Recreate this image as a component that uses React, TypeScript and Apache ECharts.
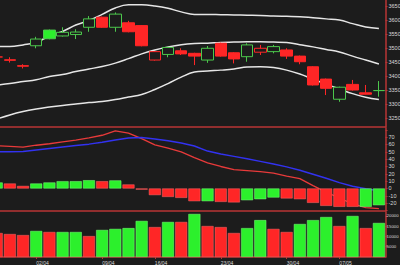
import React, { useEffect, useRef } from 'react';
import * as echarts from 'echarts';

const dates = ['28/03','29/03','30/03','02/04','03/04','04/04','05/04','06/04','09/04','10/04','11/04','12/04','16/04','17/04','18/04','19/04','20/04','23/04','24/04','25/04','26/04','27/04','30/04','02/05','03/05','04/05','07/05','08/05','09/05','10/05'];
const labelDates = ['02/04','09/04','16/04','23/04','30/04','07/05'];

const prevClose = 3475;
const open =  [3468,3458,3437,3508,3564,3543,3548,3574,3610,3574,3590,3580,3457,3477,3490,3481,3457,3517,3483,3469,3485,3487,3493,3471,3433,3389,3317,3370,3340,3348];
const close = [3468,3456,3435,3532,3533,3556,3557,3604,3574,3621,3558,3508,3487,3502,3479,3471,3499,3471,3461,3511,3499,3505,3471,3451,3368,3356,3360,3350,3335,3348];
const low =   [3461,3448,3427,3499,3531,3541,3532,3558,3572,3558,3556,3506,3455,3467,3475,3439,3447,3469,3445,3451,3475,3481,3461,3442,3366,3332,3308,3348,3334,3326];
const high =  [3475,3467,3442,3540,3566,3574,3567,3614,3612,3627,3597,3582,3489,3504,3499,3483,3507,3519,3485,3517,3511,3511,3499,3473,3435,3391,3362,3386,3368,3382];

const bandUpper = [3505,3505,3511,3520,3543,3559,3582,3598,3620,3643,3654,3654,3650,3642,3629,3620,3620,3619,3618,3617,3616,3614,3613,3612,3608,3604,3600,3587,3575,3570];
const bandMid =   [3368,3373,3380,3387,3398,3405,3416,3425,3434,3446,3462,3479,3493,3504,3512,3516,3517,3520,3521,3522,3522,3521,3520,3512,3504,3495,3486,3471,3457,3443];
const bandLower = [3246,3261,3273,3282,3289,3295,3300,3305,3309,3316,3325,3334,3352,3373,3396,3414,3418,3421,3425,3432,3433,3430,3421,3407,3389,3371,3354,3337,3324,3316];

const oscHist = [8.2,6.8,3.5,6.8,8.2,10,10,11.3,10,11,5.5,-1.5,-9,-11.5,-12.8,-17.3,-17.3,-18.3,-19,-16,-14.6,-12.3,-13.6,-14.6,-19.6,-23.7,-25,-25,-25,-22.8];
const oscHistUp = [1,0,0,1,1,1,1,1,0,1,0,0,0,0,0,0,1,0,0,1,1,1,0,0,0,0,0,0,1,1];
const oscFast = [58.5,57.5,56.5,59,61,63.5,66,69,72.6,78.5,75.5,68,59.5,55,50,42,35,30,25.6,24.5,23,21,17,13.5,4,-5,-13,-21,-26,-27.5];
const oscSlow = [50,50,50.5,52.5,54.5,56.5,58.5,60.5,63,66,69,69.5,67.5,65,62,58,51,47,43.8,40.5,37,33.5,29.5,25,19.5,14,8,3,-0.5,-3];

const volume = [11700,11200,10700,12700,12200,12200,12200,10200,13200,13700,14100,17600,14600,17100,17100,21000,15100,14600,11700,14100,18000,13700,12200,16100,18000,19500,15100,20000,14100,16600];
const volumeUp = [0,0,0,1,0,1,1,0,1,1,1,1,0,1,0,1,0,0,0,1,1,0,0,1,1,1,0,1,0,1];

const BG = '#1c1c1c';
const RED = '#ff2626';
const GREEN = '#2cf02c';
const CANDLE_GREEN = '#4cc84c';
const AXIS_RED = '#b83434';
const TEXT = '#d8d8d8';
const FONT = 'Liberation Sans';

export default function App() {
  const ref = useRef<HTMLDivElement>(null);
  useEffect(() => {
    const chart = echarts.init(ref.current!, null, { renderer: 'svg' });

    const candleData = open.map((o, i) => {
      const c = close[i];
      const prev = i === 0 ? prevClose : close[i - 1];
      const col = c >= prev ? CANDLE_GREEN : RED;
      const fillCol = c >= prev ? GREEN : RED;
      const fill = c > o ? BG : fillCol;
      return {
        value: [o, c, low[i], high[i]],
        itemStyle: { color: fill, color0: fill, borderColor: col, borderColor0: col, borderColorDoji: col, borderWidth: 1 },
      };
    });

    const gridCommon = { left: -9.9, right: 14.5, outerBoundsMode: 'none', containLabel: false };

    const xBase = (gridIndex: number) => ({
      type: 'category',
      gridIndex,
      data: dates,
      boundaryGap: true,
      axisLine: { show: true, onZero: false, lineStyle: { color: AXIS_RED, width: 1.5 } },
      axisTick: { show: false },
      axisLabel: { show: false },
      splitLine: { show: false },
    });

    const yBase = (gridIndex: number, min: number, max: number, splitNumber: number, fmt: (v: number) => string, fontSize = 5.5, margin = 3) => ({
      type: 'value',
      gridIndex,
      position: 'right',
      min,
      max,
      splitNumber,
      axisLine: { show: true, onZero: false, lineStyle: { color: AXIS_RED, width: 1.5 } },
      axisTick: { show: true, length: 2, lineStyle: { color: AXIS_RED } },
      axisLabel: { color: TEXT, fontSize, fontFamily: FONT, margin, formatter: fmt, showMinLabel: false, showMaxLabel: false },
      splitLine: { show: false },
    });

    const bandLine = (data: number[]) => ({
      type: 'line',
      xAxisIndex: 0,
      yAxisIndex: 0,
      data,
      smooth: 0.4,
      symbol: 'none',
      lineStyle: { color: '#e6e6e6', width: 1.5 },
      z: 2,
    });

    const option: any = {
      animation: false,
      backgroundColor: BG,
      grid: [
        { ...gridCommon, top: 0, height: 127 },
        { ...gridCommon, top: 128, height: 83 },
        { ...gridCommon, top: 212, height: 45 },
      ],
      xAxis: [
        xBase(0),
        xBase(1),
        {
          ...xBase(2),
          axisTick: {
            show: true,
            alignWithLabel: true,
            length: 2,
            interval: (_i: number, v: string) => labelDates.includes(v),
            lineStyle: { color: AXIS_RED },
          },
          axisLabel: {
            show: true,
            interval: (_i: number, v: string) => labelDates.includes(v),
            align: 'left',
            color: TEXT,
            fontSize: 5,
            fontFamily: FONT,
            margin: 3,
          },
        },
      ],
      yAxis: [
        yBase(0, 3217.9, 3671.4, 9, (v: number) => (Math.abs(v % 50) < 1e-6 ? String(v) : '')),
        yBase(1, -30.7, 82.5, 11, (v: number) => (Math.abs(v % 10) < 1e-6 && v >= -20 && v <= 70 ? String(v) : '')),
        yBase(2, 0, 21950, 4, (v: number) => (Math.abs(v % 5000) < 1e-6 ? String(v) : ''), 4.4, 1),
      ],
      series: [
        bandLine(bandUpper),
        bandLine(bandMid),
        bandLine(bandLower),
        {
          type: 'candlestick',
          xAxisIndex: 0,
          yAxisIndex: 0,
          barWidth: 12,
          data: candleData,
          z: 3,
          markLine: {
            silent: true,
            symbol: 'none',
            lineStyle: { opacity: 0 },
            label: {
              show: true,
              position: 'end',
              distance: 2,
              formatter: String(close[close.length - 1]),
              backgroundColor: '#2451f0',
              color: '#ffffff',
              fontSize: 5.5,
              fontFamily: FONT,
              padding: [1.5, 1],
            },
            data: [{ yAxis: close[close.length - 1] }],
          },
        },
        {
          type: 'line',
          xAxisIndex: 1,
          yAxisIndex: 1,
          data: oscFast,
          symbol: 'none',
          lineStyle: { color: '#e83a3a', width: 1.3 },
          z: 2,
        },
        {
          type: 'line',
          xAxisIndex: 1,
          yAxisIndex: 1,
          data: oscSlow,
          symbol: 'none',
          lineStyle: { color: '#3232f0', width: 1.5 },
          z: 2,
        },
        {
          type: 'bar',
          xAxisIndex: 1,
          yAxisIndex: 1,
          barWidth: 12,
          z: 3,
          data: oscHist.map((v, i) => ({
            value: v,
            itemStyle: { color: oscHistUp[i] ? GREEN : RED, borderColor: oscHistUp[i] ? '#7cff7c' : '#ff6a6a', borderWidth: 0.5 },
          })),
        },
        {
          type: 'bar',
          xAxisIndex: 2,
          yAxisIndex: 2,
          barWidth: 12,
          data: volume.map((v, i) => ({
            value: v,
            itemStyle: { color: volumeUp[i] ? GREEN : RED, borderColor: volumeUp[i] ? '#7cff7c' : '#ff6a6a', borderWidth: 0.5 },
          })),
        },
      ],
    };

    chart.setOption(option);
    return () => chart.dispose();
  }, []);

  return <div ref={ref} style={{ position: 'fixed', left: 0, top: 0, width: 400, height: 265, background: BG }} />;
}
